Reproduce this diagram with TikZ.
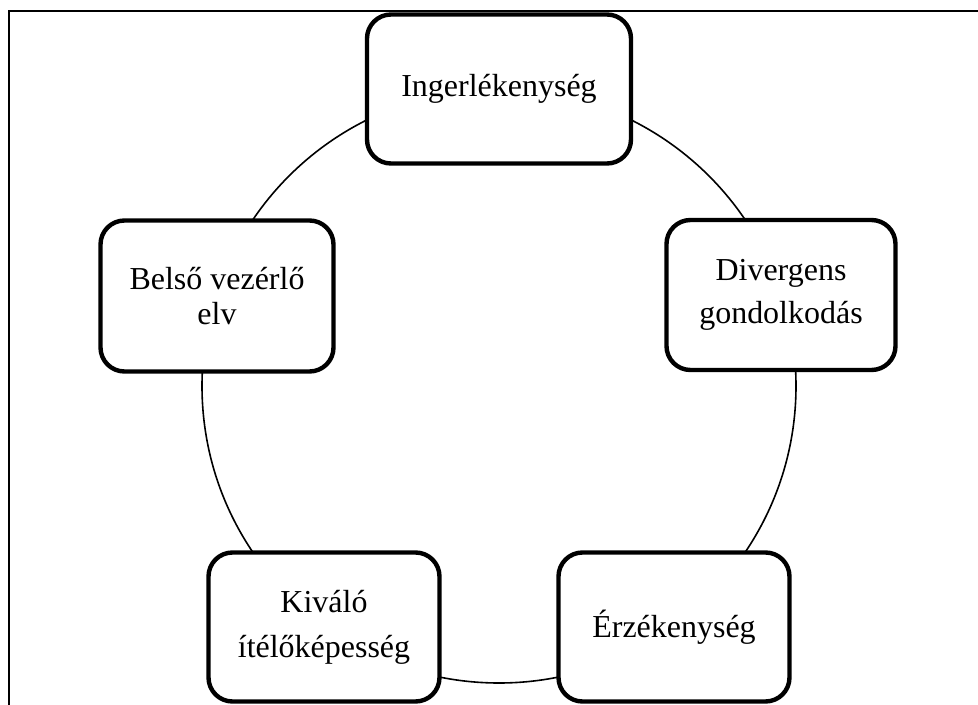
\documentclass[tikz,border=0pt]{standalone}
\usepackage{fontspec}
\setmainfont{Liberation Serif}
\begin{document}
\begin{tikzpicture}[x=1bp,y=-1bp,
  frameline/.style={line width=2.8bp,black},
  ring/.style={line width=1.6bp,black},
  cyclebox/.style={draw=black,fill=white,line width=4.4bp,rounded corners=24bp,
    inner sep=0pt,align=center,font=\fontsize{32.1}{42}\selectfont,
    minimum width=231bp,minimum height=149bp}]
\useasboundingbox (0,0) rectangle (978,705);
\fill[white] (0,0) rectangle (978,705);
\draw[frameline] (9,705) -- (9,11) -- (978,11);
\coordinate (c) at (499,386);
\draw[ring] (c) circle[radius=297];
\node[cyclebox,minimum width=264bp] (ing) at (499,89) {Ingerlékenység};
\node[cyclebox,minimum width=229bp,minimum height=150bp,font=\fontsize{32.1}{42.5}\selectfont] (div) at (781,295) {Divergens\\gondolkodás};
\node[cyclebox,minimum width=233bp,minimum height=151bp,font=\fontsize{32.1}{34.5}\selectfont] (bel) at (217,296) {Belső vezérlő\\elv};
\node[cyclebox,font=\fontsize{32.1}{45.5}\selectfont] (kiv) at (324,627) {Kiváló\\ítélőképesség};
\node[cyclebox] (erz) at (674,627) {Érzékenység};
\end{tikzpicture}
\end{document}
